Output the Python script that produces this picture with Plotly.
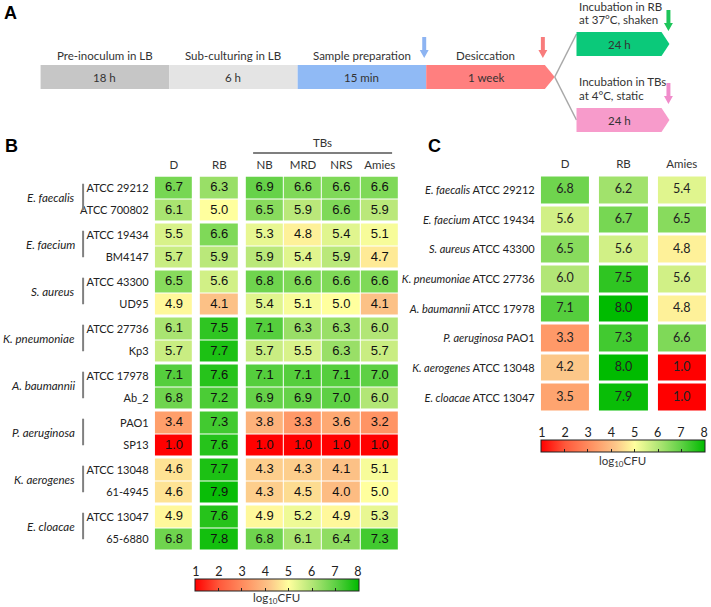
import plotly.graph_objects as go

# ---------------- Panel B data ----------------
species_B = ["E. faecalis", "E. faecium", "S. aureus", "K. pneumoniae",
             "A. baumannii", "P. aeruginosa", "K. aerogenes", "E. cloacae"]
strains_B = ["ATCC 29212", "ATCC 700802", "ATCC 19434", "BM4147",
             "ATCC 43300", "UD95", "ATCC 27736", "Kp3",
             "ATCC 17978", "Ab_2", "PAO1", "SP13",
             "ATCC 13048", "61-4945", "ATCC 13047", "65-6880"]
media_B = ["D", "RB", "NB", "MRD", "NRS", "Amies"]
D_B = [6.7, 6.1, 5.5, 5.7, 6.5, 4.9, 6.1, 5.7, 7.1, 6.8, 3.4, 1.0, 4.6, 4.6, 4.9, 6.8]
RB_B = [6.3, 5.0, 6.6, 5.9, 5.6, 4.1, 7.5, 7.7, 7.6, 7.2, 7.3, 7.6, 7.7, 7.9, 7.6, 7.8]
NB_B = [6.9, 6.5, 5.3, 5.9, 6.8, 5.4, 7.1, 5.7, 7.1, 6.9, 3.8, 1.0, 4.3, 4.3, 4.9, 6.8]
MRD_B = [6.6, 5.9, 4.8, 5.4, 6.6, 5.1, 6.3, 5.5, 7.1, 6.9, 3.3, 1.0, 4.3, 4.5, 5.2, 6.1]
NRS_B = [6.6, 6.6, 5.4, 5.9, 6.6, 5.0, 6.3, 6.3, 7.1, 7.0, 3.6, 1.0, 4.1, 4.0, 4.9, 6.4]
Amies_B = [6.6, 5.9, 5.1, 4.7, 6.6, 4.1, 6.0, 5.7, 7.0, 6.0, 3.2, 1.0, 5.1, 5.0, 5.3, 7.3]
tb_group_label = "TBs"

# ---------------- Panel C data ----------------
species_C = ["E. faecalis", "E. faecium", "S. aureus", "K. pneumoniae",
             "A. baumannii", "P. aeruginosa", "K. aerogenes", "E. cloacae"]
strains_C = ["ATCC 29212", "ATCC 19434", "ATCC 43300", "ATCC 27736",
             "ATCC 17978", "PAO1", "ATCC 13048", "ATCC 13047"]
media_C = ["D", "RB", "Amies"]
D_C = [6.8, 5.6, 6.5, 6.0, 7.1, 3.3, 4.2, 3.5]
RB_C = [6.2, 6.7, 5.6, 7.5, 8.0, 7.3, 8.0, 7.9]
Amies_C = [5.4, 6.5, 4.8, 5.6, 4.8, 6.6, 1.0, 1.0]

# ---------------- Panel A data ----------------
stage_names = ["Pre-inoculum in LB", "Sub-culturing in LB", "Sample preparation", "Desiccation"]
stage_times = ["18 h", "6 h", "15 min", "1 week"]
branch_titles = [["Incubation in RB", "at 37°C, shaken"], ["Incubation in TBs", "at 4°C, static"]]
branch_times = ["24 h", "24 h"]

colorbar_ticks = [1, 2, 3, 4, 5, 6, 7, 8]
cbar_title = "log<sub>10</sub>CFU"

# ---------------- styling ----------------
W, H = 711, 607
LBL = "Lato"
NUM = "Liberation Sans, Arial"
TXT = "#333333"
CS = [[0.0, "#FF0000"], [0.15, "#FF5A3C"], [0.33, "#FF9A68"], [0.45, "#FCC488"],
      [0.571, "#FFFF9E"], [0.714, "#B2E676"], [0.857, "#5ED044"], [1.0, "#00BB00"]]


def px_x(p):
    return p / W


def px_y(p):
    return 1 - p / H


def build_edges(groups, gap):
    edges, kinds, pos = [0.0], [], 0.0
    for gi, grp in enumerate(groups):
        if gi > 0:
            pos += gap
            edges.append(pos)
            kinds.append(None)
        for idx in grp:
            pos += 1
            edges.append(pos)
            kinds.append(idx)
    return edges, kinds


def build_grid(cols, row_kinds, col_kinds):
    z = []
    for r in row_kinds:
        zr = []
        for c in col_kinds:
            zr.append(None if (r is None or c is None) else cols[c][r])
        z.append(zr)
    return z


def centers(edges, kinds):
    out = {}
    for j, k in enumerate(kinds):
        if k is not None:
            out[k] = (edges[j] + edges[j + 1]) / 2
    return out


def cell_text(cols, xc, yc):
    xs, ys, ts = [], [], []
    for c, col in enumerate(cols):
        for r, v in enumerate(col):
            xs.append(xc[c])
            ys.append(yc[r])
            ts.append(f"{v:.1f}")
    return xs, ys, ts


fig = go.Figure()

# ================= Panel B heatmap =================
cols_B = [D_B, RB_B, NB_B, MRD_B, NRS_B, Amies_B]
xe_B, xk_B = build_edges([[0], [1], [2, 3, 4, 5]], 7 / 38.8)
row_groups_B = [[2 * k, 2 * k + 1] for k in range(len(species_B))]
ye_B, yk_B = build_edges(row_groups_B, 2 / 22.5)
zB = build_grid(cols_B, yk_B, xk_B)
fig.add_trace(go.Heatmap(
    x=xe_B, y=ye_B, z=zB, coloraxis="coloraxis", xgap=1, ygap=1,
    hoverinfo="skip", xaxis="x", yaxis="y"))
xc_B = centers(xe_B, xk_B)
yc_B = centers(ye_B, yk_B)
tx, ty, tt = cell_text(cols_B, xc_B, yc_B)
fig.add_trace(go.Scatter(x=tx, y=ty, text=tt, mode="text", hoverinfo="skip", showlegend=False,
                         textfont=dict(family=NUM, size=13, color="#111111"),
                         xaxis="x", yaxis="y"))

# ================= Panel C heatmap =================
cols_C = [D_C, RB_C, Amies_C]
xe_C, xk_C = build_edges([[0], [1], [2]], 8 / 51)
ye_C, yk_C = build_edges([list(range(len(strains_C)))], 0)
zC = build_grid(cols_C, yk_C, xk_C)
fig.add_trace(go.Heatmap(
    x=xe_C, y=ye_C, z=zC, coloraxis="coloraxis2", xgap=2, ygap=3,
    hoverinfo="skip", xaxis="x2", yaxis="y2"))
xc_C = centers(xe_C, xk_C)
yc_C = centers(ye_C, yk_C)
tx, ty, tt = cell_text(cols_C, xc_C, yc_C)
fig.add_trace(go.Scatter(x=tx, y=ty, text=tt, mode="text", hoverinfo="skip", showlegend=False,
                         textfont=dict(family=LBL, size=12.5, color="#222222"),
                         xaxis="x2", yaxis="y2"))

# invisible anchors for colorbar tick axes
for ax in ("4", "5"):
    fig.add_trace(go.Scatter(x=[1, 8], y=[0, 0], mode="markers", marker=dict(opacity=0),
                             hoverinfo="skip", showlegend=False, xaxis="x" + ax, yaxis="y" + ax))

# ================= Panel A timeline (pixel-like coordinates) =================
stage_colors = ["#C6C6C6", "#E4E4E4", "#90BAF5", "#FF7F7F"]
x0_tl, stage_w, tip = 37, 130, 10
bar_top, bar_bot = 65, 89
TL = 11.5
ann = []


def poly(xs, ys, color):
    fig.add_trace(go.Scatter(x=xs + [xs[0]], y=ys + [ys[0]], mode="lines", fill="toself",
                             fillcolor=color, line=dict(width=0, color=color),
                             hoverinfo="skip", showlegend=False, xaxis="x3", yaxis="y3"))


def block_arrow(xc, y0, y1, color):
    hl, sw, hw = 8, 2, 4.5
    xs = [xc - sw, xc + sw, xc + sw, xc + hw, xc, xc - hw, xc - sw]
    ys = [y0, y0, y1 - hl, y1 - hl, y1, y1 - hl, y1 - hl]
    poly(xs, ys, color)


def atext(x, y, s, size=TL, anchor="center", color=TXT, font=LBL):
    ann.append(dict(x=x, y=y, xref="x3", yref="y3", text=s, showarrow=False,
                    xanchor=anchor, yanchor="middle",
                    font=dict(family=font, size=size, color=color)))


mid = (bar_top + bar_bot) / 2
for i, (nm, tm) in enumerate(zip(stage_names, stage_times)):
    xa = x0_tl + i * stage_w
    xb = xa + stage_w
    last = i == len(stage_names) - 1
    if last:
        xs = [xa, xb - tip, xb, xb - tip, xa]
        ys = [bar_top, bar_top, mid, bar_bot, bar_bot]
        cx = (xa + xb - tip) / 2
    else:
        xs = [xa, xb, xb, xa]
        ys = [bar_top, bar_top, bar_bot, bar_bot]
        cx = (xa + xb) / 2
    poly(xs, ys, stage_colors[i])
    atext(cx, 55, nm)
    atext(cx, mid, tm)

end_x = x0_tl + len(stage_names) * stage_w
block_arrow(end_x - stage_w - 2, 37, 58, "#8DB4F2")
block_arrow(end_x - tip - 2, 37, 58, "#F87C7C")

br_colors = ["#0BC97A", "#F79BCB"]
arrow_colors = ["#1DC55A", "#F08CCB"]
br_x0, br_x1, br_tip = end_x + 22, end_x + 116, 8
br_tops = [32, 108]
br_h = 24
title_y = [(6, 19), (81, 95)]
arrow_y = [(10, 31), (83, 104)]
for b in range(2):
    t0 = br_tops[b]
    t1 = t0 + br_h
    bm = (t0 + t1) / 2
    fig.add_trace(go.Scatter(x=[end_x, br_x0], y=[mid, bm + (-10 if b == 0 else 0)], mode="lines",
                             line=dict(color="#A8A8A8", width=1.5), hoverinfo="skip",
                             showlegend=False, xaxis="x3", yaxis="y3"))
    poly([br_x0, br_x1 - br_tip, br_x1, br_x1 - br_tip, br_x0], [t0, t0, bm, t1, t1], br_colors[b])
    atext((br_x0 + br_x1 - br_tip) / 2, bm, branch_times[b])
    for ln, yy in zip(branch_titles[b], title_y[b]):
        atext(br_x0 + 1, yy, ln, anchor="left")
    block_arrow(br_x1 - 1, arrow_y[b][0], arrow_y[b][1], arrow_colors[b])

# ================= annotations for B / C =================
for lab, x, y in (("A", 7, 13), ("B", 8, 146), ("C", 435, 146)):
    ann.append(dict(x=px_x(x), y=px_y(y), xref="paper", yref="paper", text=f"<b>{lab}</b>",
                    showarrow=False, xanchor="center", yanchor="middle",
                    font=dict(family="Liberation Sans, Arial", size=18, color="#000000")))

shapes = []
for k, sp in enumerate(species_B):
    rows = row_groups_B[k]
    c = (yc_B[rows[0]] + yc_B[rows[-1]]) / 2
    ann.append(dict(x=px_x(74), y=c, xref="paper", yref="y", text=f"<i>{sp}</i>",
                    showarrow=False, xanchor="right", yanchor="middle", yshift=2,
                    font=dict(family=LBL, size=11.5, color="#222222")))
    shapes.append(dict(type="line", xref="paper", yref="y", x0=px_x(80), x1=px_x(80),
                       y0=c - 0.68, y1=c + 0.5, line=dict(color="#808080", width=2)))

tb_left = xe_B[xk_B.index(2)]
tb_right = xe_B[-1]
shapes.append(dict(type="line", xref="x", yref="paper", x0=tb_left + 0.2, x1=tb_right - 0.18,
                   y0=px_y(153), y1=px_y(153), line=dict(color="#7F7F7F", width=2)))
ann.append(dict(x=(tb_left + tb_right) / 2, y=px_y(143), xref="x", yref="paper", text=tb_group_label,
                showarrow=False, xanchor="center", yanchor="middle",
                font=dict(family=LBL, size=11.5, color=TXT)))

# colorbar titles
for cx, cy in ((276, 598), (626, 461)):
    ann.append(dict(x=px_x(cx), y=px_y(cy), xref="paper", yref="paper", text=cbar_title,
                    showarrow=False, xanchor="center", yanchor="middle",
                    font=dict(family=LBL, size=11.5, color=TXT)))

ticktext_C = [f"<i>{sp}</i> {st}" for sp, st in zip(species_C, strains_C)]


def cbar(xc_px, ytop_px):
    return dict(orientation="h", x=px_x(xc_px), xanchor="center", y=px_y(ytop_px), yanchor="top",
                len=164, lenmode="pixels", thickness=12, thicknessmode="pixels",
                outlinewidth=1, outlinecolor="#222222", xpad=0, ypad=0,
                tickmode="array", tickvals=colorbar_ticks, ticktext=[" "] * len(colorbar_ticks),
                ticks="inside", ticklen=3, tickcolor="#222222",
                tickfont=dict(size=2, color="rgba(0,0,0,0)"))


axis_common = dict(showgrid=False, zeroline=False, showline=False)
fig.update_layout(
    width=W, height=H, margin=dict(l=0, r=0, t=0, b=0),
    paper_bgcolor="white", plot_bgcolor="rgba(0,0,0,0)", showlegend=False,
    coloraxis=dict(colorscale=CS, cmin=1, cmax=8, colorbar=cbar(276, 579)),
    coloraxis2=dict(colorscale=CS, cmin=1, cmax=8, colorbar=cbar(626, 440)),
    xaxis=dict(domain=[px_x(152.5), px_x(399.5)], range=[xe_B[0], xe_B[-1]], side="top",
               tickvals=[xc_B[i] for i in range(len(media_B))], ticktext=media_B,
               ticks="outside", ticklen=2, tickcolor="rgba(0,0,0,0)",
               tickfont=dict(family=LBL, size=11.5, color=TXT), anchor="y", **axis_common),
    yaxis=dict(domain=[px_y(550.5), px_y(176.5)], range=[ye_B[-1], ye_B[0]],
               tickvals=[yc_B[i] for i in range(len(strains_B))], ticktext=strains_B,
               ticks="outside", ticklen=3, tickcolor="rgba(0,0,0,0)",
               tickfont=dict(family=LBL, size=11, color="#222222"), anchor="x", **axis_common),
    xaxis2=dict(domain=[px_x(542), 1.0], range=[xe_C[0], xe_C[-1]], side="top",
                tickvals=[xc_C[i] for i in range(len(media_C))], ticktext=media_C,
                ticks="outside", ticklen=2, tickcolor="rgba(0,0,0,0)",
                tickfont=dict(family=LBL, size=11.5, color=TXT), anchor="y2", **axis_common),
    yaxis2=dict(domain=[px_y(412.5), px_y(175.5)], range=[ye_C[-1], ye_C[0]],
                tickvals=[yc_C[i] for i in range(len(strains_C))], ticktext=ticktext_C,
                ticks="outside", ticklen=2, tickcolor="rgba(0,0,0,0)",
                tickfont=dict(family=LBL, size=11, color="#222222"), anchor="x2", **axis_common),
    xaxis3=dict(domain=[0, 1], range=[0, W], visible=False, anchor="y3"),
    yaxis3=dict(domain=[px_y(140), 1], range=[140, 0], visible=False, anchor="x3"),
    xaxis4=dict(domain=[px_x(194), px_x(358)], range=[1, 8], side="top", anchor="y4",
                tickvals=colorbar_ticks, ticks="inside", ticklen=3, tickcolor="#222222",
                tickfont=dict(family=LBL, size=12.5, color="#222222"), **axis_common),
    yaxis4=dict(domain=[px_y(591), px_y(579)], range=[0, 1], visible=False, anchor="x4"),
    xaxis5=dict(domain=[px_x(544), px_x(708)], range=[1, 8], side="top", anchor="y5",
                tickvals=colorbar_ticks, ticks="inside", ticklen=3, tickcolor="#222222",
                tickfont=dict(family=LBL, size=12.5, color="#222222"), **axis_common),
    yaxis5=dict(domain=[px_y(452), px_y(440)], range=[0, 1], visible=False, anchor="x5"),
    annotations=ann, shapes=shapes,
)

fig.write_html("out.html")
